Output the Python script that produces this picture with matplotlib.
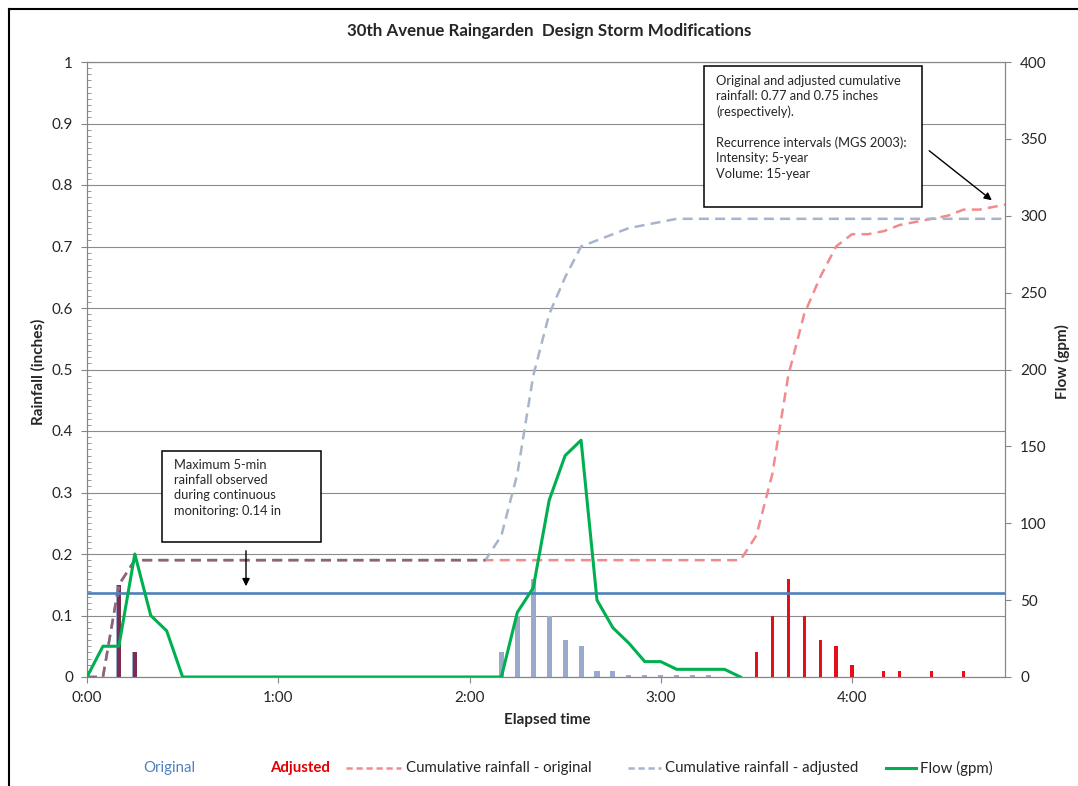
import numpy as np
import matplotlib
matplotlib.use("Agg")
import matplotlib.pyplot as plt
from matplotlib.lines import Line2D
from matplotlib.patches import Rectangle, FancyArrowPatch

plt.rcParams["font.family"] = ["Lato", "DejaVu Sans"]

W, H = 1078, 786

# 5-minute steps, minutes from start of storm (0:00 .. 4:50)
minutes = np.arange(0, 295, 5)

# cumulative rainfall (inches) at every 5-min step
cum_original = ([0, 0, 0.15, 0.19] + [0.19] * 38 +
                [0.23, 0.33, 0.49, 0.59, 0.65, 0.70, 0.72, 0.72, 0.725,
                 0.735, 0.74, 0.745, 0.75, 0.76, 0.76, 0.765, 0.77])
cum_adjusted = ([0, 0, 0.15, 0.19] + [0.19] * 22 +
                [0.23, 0.33, 0.49, 0.59, 0.65, 0.70, 0.71, 0.72, 0.73,
                 0.735, 0.74, 0.745] + [0.745] * 21)

# flow (gpm), recorded up to 3:25
flow = ([0, 20, 20, 80, 40, 30] + [0] * 21 +
        [42, 58, 115, 144, 154, 50, 32, 22, 10, 10, 5, 5, 5, 5, 0])

# 5-min rainfall bars (inches)
orig_bar_min = [10, 15, 130, 135, 140, 145, 150, 155, 160, 165, 170, 175, 180, 185, 190, 195]
orig_bar_in = [0.15, 0.04, 0.04, 0.10, 0.16, 0.10, 0.06, 0.05, 0.01, 0.01,
               0.004, 0.004, 0.004, 0.004, 0.004, 0.004]
adj_bar_min = [10, 15, 210, 215, 220, 225, 230, 235, 240, 250, 255, 265, 275]
adj_bar_in = [0.15, 0.04, 0.04, 0.10, 0.16, 0.10, 0.06, 0.05, 0.02, 0.01, 0.01, 0.01, 0.01]

max_5min = 0.137

hour_ticks = [0, 60, 120, 180, 240]
hour_labels = ["0:00", "1:00", "2:00", "3:00", "4:00"]
rain_ticks = [0, 0.1, 0.2, 0.3, 0.4, 0.5, 0.6, 0.7, 0.8, 0.9, 1.0]
rain_labels = ["0", "0.1", "0.2", "0.3", "0.4", "0.5", "0.6", "0.7", "0.8", "0.9", "1"]
flow_ticks = [0, 50, 100, 150, 200, 250, 300, 350, 400]

RED_DASH = "#F28B8D"
GREY_DASH = "#A7B4CB"
MAUVE = "#8C6379"
BLUE = "#4F81BD"
GREEN = "#00B050"
SPINE = "#868686"
TXT = "#262626"


def fp(x, y):
    """pixel (from top-left) -> figure fraction"""
    return x / W, 1 - y / H


fig = plt.figure(figsize=(W / 100, H / 100), dpi=100)
ax = fig.add_axes([87 / W, 1 - 677 / H, (1005 - 87) / W, (677 - 62) / H])
ax2 = ax.twinx()

# bars
ax.bar(orig_bar_min, orig_bar_in, width=1.6, color="#9AAACB", zorder=3)
ax.bar(adj_bar_min, adj_bar_in, width=1.0, color="#E3101C", zorder=3)
shared = [(t, v) for t, v in zip(orig_bar_min, orig_bar_in) if t in adj_bar_min]
ax.bar([t for t, _ in shared], [v for _, v in shared], width=1.3, color="#7B2D4E", zorder=4)

# cumulative lines
dash = (0, (4, 2.5))
ax.plot(minutes, cum_original, color=RED_DASH, ls=dash, lw=1.8, zorder=5)
ax.plot(minutes, cum_adjusted, color=GREY_DASH, ls=dash, lw=1.8, zorder=5)
# where both cumulative lines coincide they show as one mauve line
ax.plot(minutes[:26], cum_adjusted[:26], color=MAUVE, ls=dash, lw=1.8, zorder=6)

ax.axhline(max_5min, color=BLUE, lw=1.9, zorder=7)

ax2.plot(minutes[:len(flow)], flow, color=GREEN, lw=2.2, zorder=8)

ax.set_xlim(0, 288)
ax.set_ylim(0, 1)
ax2.set_ylim(0, 400)

ax.set_xticks(hour_ticks)
ax.set_xticklabels(hour_labels)
ax.set_yticks(rain_ticks)
ax.set_yticklabels(rain_labels)
ax.set_yticks(np.arange(0, 1.0, 0.01), minor=True)
ax2.set_yticks(flow_ticks)

ax.yaxis.grid(True, color="#8C8C8C", lw=0.8)
ax.set_axisbelow(True)

for a in (ax, ax2):
    for s in a.spines.values():
        s.set_color(SPINE)
        s.set_linewidth(0.8)
ax.tick_params(axis="x", direction="out", length=4, color=SPINE, pad=6, labelsize=11, labelcolor=TXT)
ax.tick_params(axis="y", which="major", direction="out", length=4, color=SPINE, pad=6,
               labelsize=11, labelcolor=TXT)
ax.tick_params(axis="y", which="minor", direction="in", length=3, color=SPINE, width=0.6)
ax2.tick_params(axis="y", direction="out", length=4, color=SPINE, pad=7, labelsize=11, labelcolor=TXT)

# titles and axis labels
fig.text(*fp(549, 31), "30th Avenue Raingarden  Design Storm Modifications",
         ha="center", va="center", fontsize=12.2, fontweight="bold", color=TXT)
fig.text(*fp(547, 720), "Elapsed time", ha="center", va="center",
         fontsize=11, fontweight="bold", color=TXT)
fig.text(*fp(38, 372), "Rainfall (inches)", ha="center", va="center", rotation=90,
         fontsize=11, fontweight="bold", color=TXT)
fig.text(*fp(1062, 362), "Flow (gpm)", ha="center", va="center", rotation=90,
         fontsize=11, fontweight="bold", color=TXT)

# annotation boxes
fig.add_artist(Rectangle(fp(162, 542), (321 - 162) / W, (542 - 451) / H, transform=fig.transFigure,
                         facecolor="white", edgecolor="black", lw=1.1, zorder=10))
fig.text(*fp(174, 459), "Maximum 5-min\nrainfall observed\nduring continuous\nmonitoring: 0.14 in",
         ha="left", va="top", fontsize=9.3, linespacing=1.32, color=TXT, zorder=11)
fig.add_artist(FancyArrowPatch(fp(246, 548), fp(246, 589), transform=fig.transFigure,
                               arrowstyle="-|>", mutation_scale=11, color="black", lw=1, zorder=11))

fig.add_artist(Rectangle(fp(704, 207), (922 - 704) / W, (207 - 66) / H, transform=fig.transFigure,
                         facecolor="white", edgecolor="black", lw=1.1, zorder=10))
fig.text(*fp(716, 75),
         "Original and adjusted cumulative\nrainfall: 0.77 and 0.75 inches\n(respectively).\n\n"
         "Recurrence intervals (MGS 2003):\nIntensity: 5-year\nVolume: 15-year",
         ha="left", va="top", fontsize=9.3, linespacing=1.32, color=TXT, zorder=11)
fig.add_artist(FancyArrowPatch(fp(927, 149), fp(994, 202), transform=fig.transFigure,
                               arrowstyle="-|>", mutation_scale=11, color="black", lw=1, zorder=11))

# legend row
ly = 768
lfs = 10.8
fig.text(*fp(143, ly), "Original", ha="left", va="center", fontsize=lfs, color=BLUE)
fig.text(*fp(270, ly), "Adjusted", ha="left", va="center", fontsize=lfs, color="#E00000", fontweight="bold")
fig.add_artist(Line2D([346 / W, 401 / W], [1 - ly / H] * 2, transform=fig.transFigure,
                      color=RED_DASH, ls=(0, (2.5, 1.5)), lw=1.8))
fig.text(*fp(406, ly), "Cumulative rainfall - original", ha="left", va="center", fontsize=lfs, color=TXT)
fig.add_artist(Line2D([628 / W, 661 / W], [1 - ly / H] * 2, transform=fig.transFigure,
                      color=GREY_DASH, ls=(0, (2.5, 1.5)), lw=1.8))
fig.text(*fp(665, ly), "Cumulative rainfall - adjusted", ha="left", va="center", fontsize=lfs, color=TXT)
fig.add_artist(Line2D([886 / W, 916 / W], [1 - ly / H] * 2, transform=fig.transFigure,
                      color=GREEN, lw=2.2))
fig.text(*fp(920, ly), "Flow (gpm)", ha="left", va="center", fontsize=lfs, color=TXT)

# chart area border (left and top edges visible)
fig.add_artist(Line2D([9 / W, 9 / W], [0, 1 - 9 / H], transform=fig.transFigure, color="black", lw=1.5))
fig.add_artist(Line2D([9 / W, 1], [1 - 9 / H, 1 - 9 / H], transform=fig.transFigure, color="black", lw=1.5))

fig.savefig("out.png", dpi=100)
